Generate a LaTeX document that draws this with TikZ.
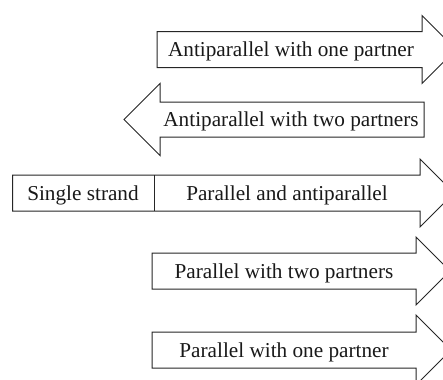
\documentclass[tikz,border=0pt]{standalone}
\usepackage{fontspec}
\setmainfont{Liberation Serif}
\begin{document}
\begin{tikzpicture}[x=1bp,y=-1bp,
  arrowline/.style={draw=black!85, line width=1bp, line join=miter, fill=white},
  lbl/.style={font=\fontsize{21.3}{24}\selectfont, inner sep=0, anchor=base, text=black!90}]
\useasboundingbox (0,0) rectangle (443,379);
\clip (0,0) rectangle (443,379);
% Arrow 1: antiparallel with one partner (right)
\draw[arrowline] (157,31.5) -- (422,31.5) -- (422,15.5) -- (456,49.5) -- (422,83.5) -- (422,67.5) -- (157,67.5) -- cycle;
\node[lbl] (t1) at (291,56.8) {Antiparallel with one partner};
% Arrow 2: antiparallel with two partners (left)
\draw[arrowline] (424,102) -- (160,102) -- (160,83.5) -- (124,119.5) -- (160,155.5) -- (160,137) -- (424,137) -- cycle;
\node[lbl] (t2) at (291,126.8) {Antiparallel with two partners};
% Arrow 3: single strand + parallel and antiparallel
\draw[arrowline] (12.5,175) -- (420,175) -- (420,159) -- (454,193) -- (420,227) -- (420,211) -- (12.5,211) -- cycle;
\coordinate (d1) at (154,175);
\coordinate (d2) at (154,211);
\draw[arrowline] (d1) -- (d2);
\node[lbl] (t3a) at (83,200.5) {Single strand};
\node[lbl] (t3b) at (287,200.5) {Parallel and antiparallel};
% Arrow 4: parallel with two partners
\draw[arrowline] (152,253) -- (416,253) -- (416,237) -- (450,271) -- (416,305) -- (416,289) -- (152,289) -- cycle;
\node[lbl] (t4) at (284,278.5) {Parallel with two partners};
% Arrow 5: parallel with one partner
\draw[arrowline] (152,332) -- (416,332) -- (416,315) -- (451,350) -- (416,385) -- (416,368) -- (152,368) -- cycle;
\node[lbl] (t5) at (284,357.5) {Parallel with one partner};
\end{tikzpicture}
\end{document}
